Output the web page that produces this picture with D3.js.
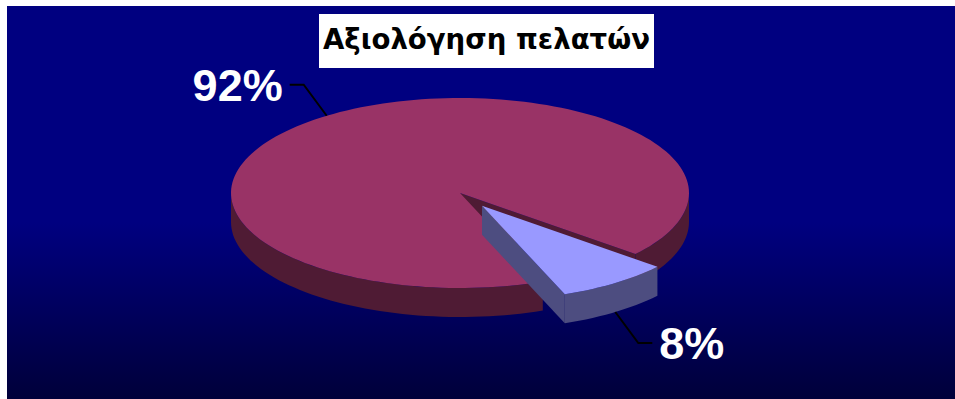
<!DOCTYPE html>
<html>
<head>
<meta charset="utf-8">
<script src="https://cdn.jsdelivr.net/npm/d3@7"></script>
<style>
  html, body { margin: 0; padding: 0; background: #ffffff; }
  svg { display: block; }
</style>
</head>
<body>
<svg id="chart" width="955" height="399"></svg>
<script>
// Chart data
const title = "Αξιολόγηση πελατών";
const values = [92, 8];
const labels = values.map(v => v + "%");
const topColors = ["#993366", "#9999ff"];
const sideColors = ["#4f1b34", "#4d4d80"];
const exploded = [false, true];

const W = 955, H = 399;
const svg = d3.select("#chart");

// Background panel with a vertical gradient
const defs = svg.append("defs");
const grad = defs.append("linearGradient")
  .attr("id", "bg").attr("x1", 0).attr("y1", 0).attr("x2", 0).attr("y2", 1);
grad.append("stop").attr("offset", "0").attr("stop-color", "#000080");
grad.append("stop").attr("offset", "0.55").attr("stop-color", "#000080");
grad.append("stop").attr("offset", "1").attr("stop-color", "#00003a");
svg.append("rect").attr("x", 7).attr("y", 6).attr("width", W - 7).attr("height", H - 6)
  .attr("fill", "url(#bg)");

// Title box
const titleG = svg.append("g");
titleG.append("rect").attr("x", 319).attr("y", 14).attr("width", 335).attr("height", 54)
  .attr("fill", "#ffffff");
titleG.append("text").attr("x", 486.5).attr("y", 49)
  .attr("text-anchor", "middle")
  .attr("font-family", "DejaVu Sans, sans-serif")
  .attr("font-weight", "bold").attr("font-size", 27.6).attr("fill", "#000")
  .text(title);

// 3D pie geometry (ellipse projection)
const cx = 460, cy = 193, rx = 229, ry = 95, depth = 29;
const explodeK = 0.165;
const deg = Math.PI / 180;

// d3.pie angles run clockwise from 12 o'clock; convert to screen angles from 3 o'clock
const pie = d3.pie().sort(null).startAngle(158.8 * deg).endAngle(518.8 * deg);
const arcs = pie(values).map((d, i) => {
  const a0 = d.startAngle - Math.PI / 2, a1 = d.endAngle - Math.PI / 2;
  const mid = (a0 + a1) / 2;
  const ox = exploded[i] ? rx * explodeK * Math.cos(mid) : 0;
  const oy = exploded[i] ? ry * explodeK * Math.sin(mid) : 0;
  return { i, a0, a1, mid, x: cx + ox, y: cy + oy };
});

const pt = (s, a, dy = 0) => [s.x + rx * Math.cos(a), s.y + ry * Math.sin(a) + dy];

function topPath(s) {
  const p = d3.path();
  p.moveTo(s.x, s.y);
  const [x0, y0] = pt(s, s.a0);
  p.lineTo(x0, y0);
  const n = Math.max(8, Math.ceil((s.a1 - s.a0) / (2 * deg)));
  for (let k = 1; k <= n; k++) {
    const a = s.a0 + (s.a1 - s.a0) * k / n;
    const [x, y] = pt(s, a);
    p.lineTo(x, y);
  }
  p.closePath();
  return p.toString();
}

// Outer curved wall for angle range [b0,b1]
function sidePath(s, b0, b1) {
  const p = d3.path();
  const n = Math.max(4, Math.ceil((b1 - b0) / (2 * deg)));
  for (let k = 0; k <= n; k++) {
    const a = b0 + (b1 - b0) * k / n;
    const [x, y] = pt(s, a);
    if (k === 0) p.moveTo(x, y); else p.lineTo(x, y);
  }
  for (let k = n; k >= 0; k--) {
    const a = b0 + (b1 - b0) * k / n;
    const [x, y] = pt(s, a, depth);
    p.lineTo(x, y);
  }
  p.closePath();
  return p.toString();
}

// Radial cut wall at angle a
function wallPath(s, a) {
  const [x, y] = pt(s, a);
  return `M${s.x},${s.y}L${x},${y}L${x},${y + depth}L${s.x},${s.y + depth}Z`;
}

// Visible front portions (screen angle within [0, PI] modulo 2PI)
function frontRanges(s) {
  const out = [];
  for (let k = -1; k <= 2; k++) {
    const lo = Math.max(s.a0, k * 2 * Math.PI);
    const hi = Math.min(s.a1, k * 2 * Math.PI + Math.PI);
    if (hi > lo) out.push([lo, hi]);
  }
  return out;
}

const pieG = svg.append("g");
// Draw the back slice first, then the exploded one in front
arcs.slice().sort((a, b) => (exploded[a.i] ? 1 : 0) - (exploded[b.i] ? 1 : 0)).forEach(s => {
  const g = pieG.append("g");
  // radial walls that face the viewer
  [[s.a0, -1], [s.a1, 1]].forEach(([a, dir]) => {
    const ny = Math.sin(a + dir * Math.PI / 2);
    if (ny > 0) g.append("path").attr("d", wallPath(s, a)).attr("fill", sideColors[s.i]);
  });
  frontRanges(s).forEach(([b0, b1]) => {
    g.append("path").attr("d", sidePath(s, b0, b1)).attr("fill", sideColors[s.i]);
  });
  g.append("path").attr("d", topPath(s)).attr("fill", topColors[s.i]);
});

// Labels with leader lines
const labelFont = "Liberation Sans, Arial, sans-serif";
arcs.forEach(s => {
  const front = Math.sin(s.mid) > 0;
  const right = Math.cos(s.mid) > 0;
  const p0 = pt(s, s.mid, front ? depth : 0);
  const sx = right ? 1 : -1, sy = front ? 1 : -1;
  const p1 = [p0[0] + sx * 23, p0[1] + sy * 31];
  const p2 = [p1[0] + sx * 14, p1[1]];
  svg.append("path")
    .attr("d", `M${p0[0]},${p0[1]}L${p1[0]},${p1[1]}L${p2[0]},${p2[1]}`)
    .attr("fill", "none").attr("stroke", "#000").attr("stroke-width", 2);
  svg.append("text")
    .attr("x", p2[0] + sx * 7).attr("y", p2[1] + 16)
    .attr("text-anchor", right ? "start" : "end")
    .attr("font-family", labelFont).attr("font-weight", "bold")
    .attr("font-size", 45).attr("fill", "#ffffff")
    .text(labels[s.i]);
});
</script>
</body>
</html>
